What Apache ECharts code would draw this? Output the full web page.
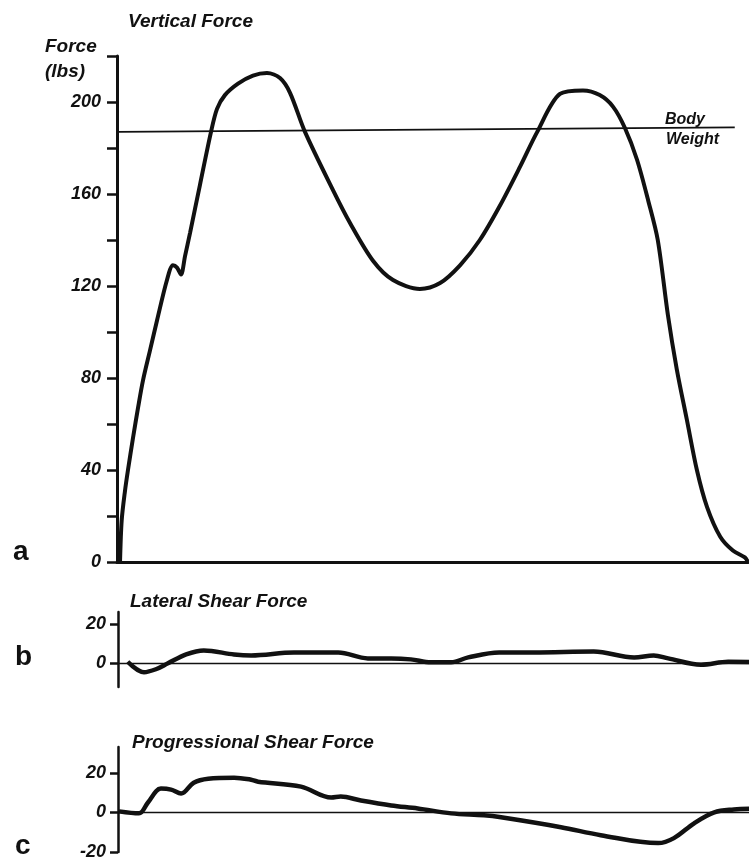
<!DOCTYPE html>
<html>
<head>
<meta charset="utf-8">
<script src="https://cdn.jsdelivr.net/npm/echarts@6/dist/echarts.min.js"></script>
<style>
html,body{margin:0;padding:0;background:#fff;}
#chart{width:749px;height:861px;}
</style>
</head>
<body>
<div id="chart"></div>
<script>
// Percent of stance phase (x) and force values (lbs)
var vertX = [0.48,0.74,1.27,1.74,2.54,3.33,4.12,5.23,6.34,7.92,8.87,9.51,10.14,10.78,11.57,13.15,14.9,15.85,17.1,19.18,21.55,23.77,25.83,27.42,29.79,34.23,36.93,40.57,43.74,48.0,51.2,54.36,57.5,60.7,63.9,66.6,70.2,73.85,76.5,78.6,80.5,82.4,84.2,85.7,87.3,88.7,90.3,91.9,93.5,95.6,97.6,99.5,100];
var vertForce = [0,18,31,40,54,67,79,92,105,122.6,129,128,125,133,143,164,187,197,203,208,211.5,212.6,210.4,204,187,161.7,147.4,131,122.6,118.7,121.3,129,140,155,172,187,203.5,205,203,198,188.7,175,157,140,107.5,84,62,40,24,11,5,2,0];

var bodyWeightX = [0.3, 97.9];
var bodyWeight = [187, 189];

var latX = [1.54,4.12,6.0,7.92,10.8,13.6,18.4,21.1,27.9,34.9,39.6,43.3,46.4,49.6,52.8,55.5,60.4,65.9,75.4,81.8,84.9,87.2,92.4,96.7,100];
var latForce = [0.8,-4.5,-3,0,4.5,6.5,4.5,4,5.5,5.5,2.5,2.5,2,0.5,0.5,3,5.5,5.5,6,3,4,2.5,-0.7,0.8,0.7];

var progX = [0.16,3.33,4.75,6.8,8.4,10.0,12.0,14.3,18.4,21.1,22.2,29.0,33.8,35.3,38.5,43.3,47.5,52.8,58.0,60.7,70.2,76.5,85.6,88.1,91.3,94.5,97.6,100];
var progForce = [0.5,-0.5,5,12,11.5,9.5,15,17,17.5,16.5,15.5,13,7.5,8,6,3.5,2,-0.5,-1.5,-2.5,-7.5,-11.5,-15.5,-13,-5.5,0,1.5,1.8];

var vertTicks = [0,40,80,120,160,200];
var latTicks = [0,20];
var progTicks = [-20,0,20];

function zip(xs, ys){ return xs.map(function(x,i){ return [x, ys[i]]; }); }

var BLACK = '#111';
var FONT = '"Liberation Sans", Arial, sans-serif';

var chart = echarts.init(document.getElementById('chart'), null, {renderer:'canvas'});

function yLabel(){
  return {color: BLACK, fontFamily: FONT, fontWeight: 'bold', fontStyle: 'italic', fontSize: 18, margin: 16};
}

var option = {
  animation: false,
  backgroundColor: '#fff',
  grid: [
    {left: 117, top: 56, width: 631, height: 506},
    {left: 118, top: 612, width: 631, height: 75},
    {left: 118, top: 747, width: 631, height: 106}
  ],
  xAxis: [
    {gridIndex:0, type:'value', min:0, max:100, axisLine:{show:true, onZero:false, lineStyle:{color:BLACK, width:3}}, axisTick:{show:false}, axisLabel:{show:false}, splitLine:{show:false}},
    {gridIndex:1, type:'value', min:0, max:100, axisLine:{show:true, onZero:true, lineStyle:{color:BLACK, width:1.3}}, axisTick:{show:false}, axisLabel:{show:false}, splitLine:{show:false}},
    {gridIndex:2, type:'value', min:0, max:100, axisLine:{show:true, onZero:true, lineStyle:{color:BLACK, width:1.3}}, axisTick:{show:false}, axisLabel:{show:false}, splitLine:{show:false}}
  ],
  yAxis: [
    {gridIndex:0, type:'value', min:0, max:220, interval:20,
     axisLine:{show:true, lineStyle:{color:BLACK, width:3}},
     axisTick:{show:true, length:10, lineStyle:{color:BLACK, width:2.5}},
     axisLabel: Object.assign(yLabel(), {formatter:function(v){ return vertTicks.indexOf(v) >= 0 ? String(v) : ''; }}),
     splitLine:{show:false}},
    {gridIndex:1, type:'value', min:-12, max:26,
     axisLine:{show:true, onZero:false, lineStyle:{color:BLACK, width:2.5}},
     axisTick:{show:true, length:8, customValues: latTicks, lineStyle:{color:BLACK, width:2.5}},
     axisLabel: Object.assign(yLabel(), {customValues: latTicks, margin: 12}),
     splitLine:{show:false}},
    {gridIndex:2, type:'value', min:-20, max:33,
     axisLine:{show:true, onZero:false, lineStyle:{color:BLACK, width:2.5}},
     axisTick:{show:true, length:8, customValues: progTicks, lineStyle:{color:BLACK, width:2.5}},
     axisLabel: Object.assign(yLabel(), {customValues: progTicks, margin: 12}),
     splitLine:{show:false}}
  ],
  series: [
    {type:'line', xAxisIndex:0, yAxisIndex:0, data: zip(vertX, vertForce), smooth:0.3, showSymbol:false, symbol:'none', lineStyle:{color:BLACK, width:4}},
    {type:'line', xAxisIndex:0, yAxisIndex:0, data: zip(bodyWeightX, bodyWeight), showSymbol:false, symbol:'none', lineStyle:{color:BLACK, width:1.8}},
    {type:'line', xAxisIndex:1, yAxisIndex:1, data: zip(latX, latForce), smooth:0.35, showSymbol:false, symbol:'none', lineStyle:{color:BLACK, width:4.5}},
    {type:'line', xAxisIndex:2, yAxisIndex:2, data: zip(progX, progForce), smooth:0.35, showSymbol:false, symbol:'none', lineStyle:{color:BLACK, width:4.5}}
  ],
  graphic: [
    {type:'text', x:128, y:22, style:{text:'Vertical Force', font:'italic bold 19px ' + FONT, fill:BLACK, verticalAlign:'middle'}},
    {type:'text', x:45, y:47, style:{text:'Force', font:'italic bold 19px ' + FONT, fill:BLACK, verticalAlign:'middle'}},
    {type:'text', x:45, y:72, style:{text:'(lbs)', font:'italic bold 19px ' + FONT, fill:BLACK, verticalAlign:'middle'}},
    {type:'text', x:665, y:120, style:{text:'Body', font:'italic bold 16px ' + FONT, fill:BLACK, verticalAlign:'middle'}},
    {type:'text', x:666, y:140, style:{text:'Weight', font:'italic bold 16px ' + FONT, fill:BLACK, verticalAlign:'middle'}},
    {type:'text', x:13, y:552, style:{text:'a', font:'bold 28px ' + FONT, fill:BLACK, verticalAlign:'middle'}},
    {type:'text', x:15, y:657, style:{text:'b', font:'bold 28px ' + FONT, fill:BLACK, verticalAlign:'middle'}},
    {type:'text', x:15, y:846, style:{text:'c', font:'bold 28px ' + FONT, fill:BLACK, verticalAlign:'middle'}},
    {type:'text', x:130, y:602, style:{text:'Lateral Shear Force', font:'italic bold 19px ' + FONT, fill:BLACK, verticalAlign:'middle'}},
    {type:'text', x:132, y:743, style:{text:'Progressional Shear Force', font:'italic bold 19px ' + FONT, fill:BLACK, verticalAlign:'middle'}}
  ]
};
chart.setOption(option);
</script>
</body>
</html>
